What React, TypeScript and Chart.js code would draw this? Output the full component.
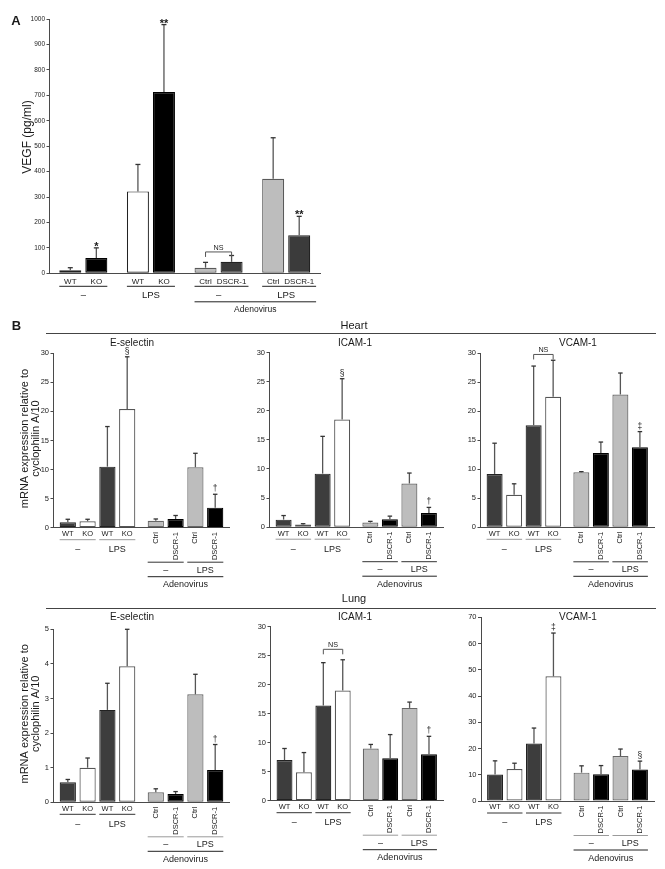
import React, { useEffect, useRef } from 'react';
import { Chart, registerables } from 'chart.js';

Chart.register(...registerables);

const FONT = '"Liberation Sans", Arial, Helvetica, sans-serif';
const PAGE_W = 665;
const PAGE_H = 869;

// ---------------- data ----------------
// Panel A: VEGF (pg/ml)
const A_GROUPS = ['–', 'LPS', '–', 'LPS'];
const A_BAR_LABELS = ['WT', 'KO', 'WT', 'KO', 'Ctrl', 'DSCR-1', 'Ctrl', 'DSCR-1'];
const A_VALUES = [12, 60, 322, 713, 22, 45, 372, 150];
const A_ERRORS = [10, 40, 106, 265, 21, 25, 161, 74];
const A_MARKS = ['', '*', '', '**', '', '', '', '**'];
const A_Y_MAX = 1000;
const A_Y_STEP = 100;
const A_Y_TITLE = ['VEGF (pg/ml)'];
const A_NS = { from: 4, to: 5, level: 84, text: 'NS' };

// Panel B
const B_CATEGORIES = ['Mice', 'Adenovirus'];
const B_BAR_LABELS = ['WT', 'KO', 'WT', 'KO', 'Ctrl', 'DSCR-1', 'Ctrl', 'DSCR-1'];
const B_PAIR_LABELS = ['–', 'LPS', '–', 'LPS'];
const B_Y_TITLE = ['mRNA expression relative to', 'cyclophilin A/10'];
const ADENO_LABEL = 'Adenovirus';
const SECTION_LABELS = ['Heart', 'Lung'];
const PANEL_LETTERS = ['A', 'B'];
const GENE_TITLES = ['E-selectin', 'ICAM-1', 'VCAM-1'];

const HEART_ESEL_VALUES = [0.95, 1.1, 10.5, 20.4, 1.2, 1.5, 10.4, 3.45];
const HEART_ESEL_ERRORS = [0.5, 0.35, 6.9, 9.0, 0.3, 0.6, 2.4, 2.3];
const HEART_ESEL_MARKS = ['', '', '', '§', '', '', '', '†'];

const HEART_ICAM_VALUES = [1.3, 0.45, 9.2, 18.5, 0.8, 1.35, 7.5, 2.45];
const HEART_ICAM_ERRORS = [0.7, 0.15, 6.4, 7.0, 0.2, 0.55, 1.8, 0.95];
const HEART_ICAM_MARKS = ['', '', '', '§', '', '', '', '†'];

const HEART_VCAM_VALUES = [9.2, 5.6, 17.6, 22.5, 9.5, 12.8, 22.9, 13.8];
const HEART_VCAM_ERRORS = [5.3, 1.9, 10.2, 6.3, 0.1, 1.9, 3.7, 2.7];
const HEART_VCAM_MARKS = ['', '', '', '', '', '', '', '‡'];
const HEART_VCAM_NS = { from: 2, to: 3, level: 29.8, text: 'NS' };

const LUNG_ESEL_VALUES = [0.58, 1.0, 2.67, 3.93, 0.29, 0.24, 3.12, 0.93];
const LUNG_ESEL_ERRORS = [0.08, 0.28, 0.77, 1.07, 0.1, 0.07, 0.58, 0.74];
const LUNG_ESEL_MARKS = ['', '', '', '', '', '', '', '†'];

const LUNG_ICAM_VALUES = [7.0, 4.9, 16.4, 19.0, 9.0, 7.3, 16.0, 8.0];
const LUNG_ICAM_ERRORS = [2.0, 3.4, 7.4, 5.3, 0.7, 4.1, 1.0, 3.1];
const LUNG_ICAM_MARKS = ['', '', '', '', '', '', '', '†'];
const LUNG_ICAM_NS = { from: 2, to: 3, level: 26.1, text: 'NS' };

const LUNG_VCAM_VALUES = [10.1, 12.2, 21.9, 47.5, 10.8, 10.2, 17.1, 12.0];
const LUNG_VCAM_ERRORS = [5.2, 2.2, 5.9, 16.5, 2.6, 3.3, 2.7, 3.2];
const LUNG_VCAM_MARKS = ['', '', '', '‡', '', '', '', '§'];

// ---------------- styles ----------------
const TEXT = '#1a1a1a';
const AXIS = '#4a4a4a';
const ERR = '#555555';
const A_FILLS = ['#ffffff', '#000000', '#ffffff', '#000000', '#bdbdbd', '#3b3b3b', '#bdbdbd', '#3b3b3b'];
const A_BORDERS = ['#222222', '#000000', '#222222', '#000000', '#5a5a5a', '#222222', '#5a5a5a', '#222222'];
const B_FILLS = ['#3d3d3d', '#ffffff', '#3d3d3d', '#ffffff', '#bdbdbd', '#000000', '#bdbdbd', '#000000'];
const B_BORDERS = ['#222222', '#555555', '#222222', '#555555', '#666666', '#000000', '#666666', '#000000'];

const OFFS_A = { hLabel: 8, hLine: 13, hGroup: 22.5, rTop: 0, rLine: 0, rGroup: 0, adenoLine: 28.5, adenoLabel: 36.5, barFont: 8, groupFont: 9.5, adenoFont: 8.5 };
const OFFS_B = { hLabel: 6.3, hLine: 12, hGroup: 22, rTop: 4.5, rLine: 34.5, rGroup: 42.6, adenoLine: 49, adenoLabel: 57.2, barFont: 7.5, groupFont: 9, adenoFont: 9 };

type Area = { left: number; top: number; right: number; bottom: number };
type NS = { from: number; to: number; level: number; text: string } | null;
type Spec = {
  key: string;
  categories: string[];
  perGroup: number;
  values: number[];
  errors: number[];
  marks: string[];
  barLabels: string[];
  pairLabels: string[];
  pairStyles: string[];
  fills: string[];
  borders: string[];
  yMax: number;
  yStep: number;
  area: Area;
  catPct: number;
  barPct: number;
  tickFont: number;
  yTitle: string[];
  yTitleX: number[];
  yTitleY: number;
  yTitleFont: number;
  title: string | null;
  titleX: number;
  titleY: number;
  ns: NS;
  offs: typeof OFFS_B;
  markFont: number;
  markBold: boolean;
  markDy: number;
  capW: number;
  widen: boolean;
  hLineColor: string;
  rLineColor: string;
};

const Y_W = 30;

const bSpec = (
  key: string,
  values: number[],
  errors: number[],
  marks: string[],
  yMax: number,
  yStep: number,
  area: Area,
  title: string,
  titleX: number,
  titleY: number,
  showYTitle: boolean,
  ns: NS,
  hLineColor: string,
  rLineColor: string,
): Spec => ({
  key,
  categories: B_CATEGORIES,
  perGroup: 4,
  values,
  errors,
  marks,
  barLabels: B_BAR_LABELS,
  pairLabels: B_PAIR_LABELS,
  pairStyles: ['h', 'h', 'r', 'r'],
  fills: B_FILLS,
  borders: B_BORDERS,
  yMax,
  yStep,
  area,
  catPct: 0.9,
  barPct: 0.82,
  tickFont: 7.5,
  yTitle: showYTitle ? B_Y_TITLE : [],
  yTitleX: [25, 36],
  yTitleY: (area.top + area.bottom) / 2 - 2,
  yTitleFont: 11,
  title,
  titleX,
  titleY,
  ns,
  offs: OFFS_B,
  markFont: 8.5,
  markBold: false,
  markDy: -3,
  capW: 4.5,
  widen: false,
  hLineColor,
  rLineColor,
});

const SPECS: Spec[] = [
  {
    key: 'A',
    categories: A_GROUPS,
    perGroup: 2,
    values: A_VALUES,
    errors: A_ERRORS,
    marks: A_MARKS,
    barLabels: A_BAR_LABELS,
    pairLabels: A_GROUPS,
    pairStyles: ['h', 'h', 'h', 'h'],
    fills: A_FILLS,
    borders: A_BORDERS,
    yMax: A_Y_MAX,
    yStep: A_Y_STEP,
    area: { left: 49.5, top: 19, right: 320, bottom: 273.3 },
    catPct: 0.77,
    barPct: 0.846,
    tickFont: 6.5,
    yTitle: A_Y_TITLE,
    yTitleX: [28],
    yTitleY: 137,
    yTitleFont: 12,
    title: null,
    titleX: 0,
    titleY: 0,
    ns: A_NS,
    offs: OFFS_A,
    markFont: 11,
    markBold: true,
    markDy: 2,
    capW: 5,
    widen: true,
    hLineColor: '#222',
    rLineColor: '#222',
  },
  bSpec('he', HEART_ESEL_VALUES, HEART_ESEL_ERRORS, HEART_ESEL_MARKS, 30, 5,
    { left: 53.5, top: 353.3, right: 229.5, bottom: 527.7 }, GENE_TITLES[0], 132, 343.3, true, null, '#9a9a9a', '#333'),
  bSpec('hi', HEART_ICAM_VALUES, HEART_ICAM_ERRORS, HEART_ICAM_MARKS, 30, 5,
    { left: 269.5, top: 352.5, right: 443, bottom: 527.2 }, GENE_TITLES[1], 355, 343.3, false, null, '#9a9a9a', '#333'),
  bSpec('hv', HEART_VCAM_VALUES, HEART_VCAM_ERRORS, HEART_VCAM_MARKS, 30, 5,
    { left: 480.5, top: 353.3, right: 654, bottom: 527.3 }, GENE_TITLES[2], 578, 343.3, false, HEART_VCAM_NS, '#9a9a9a', '#333'),
  bSpec('le', LUNG_ESEL_VALUES, LUNG_ESEL_ERRORS, LUNG_ESEL_MARKS, 5, 1,
    { left: 53.5, top: 629.3, right: 229.5, bottom: 802.3 }, GENE_TITLES[0], 132, 617, true, null, '#333', '#9a9a9a'),
  bSpec('li', LUNG_ICAM_VALUES, LUNG_ICAM_ERRORS, LUNG_ICAM_MARKS, 30, 5,
    { left: 270.5, top: 626.7, right: 443, bottom: 800.7 }, GENE_TITLES[1], 355, 617, false, LUNG_ICAM_NS, '#333', '#9a9a9a'),
  bSpec('lv', LUNG_VCAM_VALUES, LUNG_VCAM_ERRORS, LUNG_VCAM_MARKS, 70, 10,
    { left: 481, top: 617.3, right: 654, bottom: 801 }, GENE_TITLES[2], 578, 617, false, null, '#333', '#9a9a9a'),
];

const fontStr = (px: number, bold = false) => `${bold ? 'bold ' : ''}${px}px ${FONT}`;

function annotationPlugin(s: Spec) {
  return {
    id: 'figureAnnotations',
    afterDatasetsDraw(chart: any) {
      const ctx: CanvasRenderingContext2D = chart.ctx;
      const ys = chart.scales.y;
      const bottom = chart.chartArea.bottom;
      const o = s.offs;
      const bars: any[] = s.values.map(
        (_, i) => chart.getDatasetMeta(i % s.perGroup).data[Math.floor(i / s.perGroup)],
      );
      const hline = (x1: number, x2: number, y: number, color: string) => {
        ctx.strokeStyle = color;
        ctx.lineWidth = 1;
        ctx.beginPath();
        ctx.moveTo(x1, y);
        ctx.lineTo(x2, y);
        ctx.stroke();
      };
      ctx.save();
      ctx.lineCap = 'butt';

      // error bars + significance marks
      bars.forEach((el, i) => {
        const x = el.x;
        const top = ys.getPixelForValue(s.values[i] + s.errors[i]);
        ctx.strokeStyle = ERR;
        ctx.lineWidth = 1.3;
        ctx.beginPath();
        ctx.moveTo(x, el.y);
        ctx.lineTo(x, top);
        ctx.stroke();
        ctx.strokeStyle = '#333';
        ctx.beginPath();
        ctx.moveTo(x - s.capW / 2, top);
        ctx.lineTo(x + s.capW / 2, top);
        ctx.stroke();
        if (s.marks[i]) {
          ctx.fillStyle = TEXT;
          ctx.font = fontStr(s.markFont, s.markBold);
          ctx.textAlign = 'center';
          ctx.textBaseline = 'alphabetic';
          ctx.fillText(s.marks[i], x, top + s.markDy);
        }
      });

      // NS bracket
      if (s.ns) {
        const y = ys.getPixelForValue(s.ns.level);
        const x1 = bars[s.ns.from].x;
        const x2 = bars[s.ns.to].x;
        ctx.strokeStyle = ERR;
        ctx.lineWidth = 1;
        ctx.beginPath();
        ctx.moveTo(x1, y + 5);
        ctx.lineTo(x1, y);
        ctx.lineTo(x2, y);
        ctx.lineTo(x2, y + 5);
        ctx.stroke();
        ctx.fillStyle = TEXT;
        ctx.font = fontStr(7.2);
        ctx.textAlign = 'center';
        ctx.textBaseline = 'bottom';
        ctx.fillText(s.ns.text, (x1 + x2) / 2, y - 0.5);
      }

      // labels under the axis
      const extents: { x1: number; x2: number }[] = [];
      s.pairLabels.forEach((label, p) => {
        const a = bars[2 * p];
        const b = bars[2 * p + 1];
        let x1 = a.x - a.width / 2;
        let x2 = b.x + b.width / 2;
        ctx.fillStyle = TEXT;
        ctx.font = fontStr(o.barFont);
        if (s.pairStyles[p] === 'h') {
          ctx.textAlign = 'center';
          ctx.textBaseline = 'middle';
          [a, b].forEach((el, j) => {
            const t = s.barLabels[2 * p + j];
            ctx.fillText(t, el.x, bottom + o.hLabel);
            if (s.widen) {
              const w = ctx.measureText(t).width;
              x1 = Math.min(x1, el.x - w / 2 - 2);
              x2 = Math.max(x2, el.x + w / 2 + 2);
            }
          });
          hline(x1, x2, bottom + o.hLine, s.hLineColor);
          ctx.font = fontStr(o.groupFont);
          ctx.fillStyle = TEXT;
          ctx.textAlign = 'center';
          ctx.textBaseline = 'middle';
          ctx.fillText(label, (a.x + b.x) / 2, bottom + o.hGroup);
        } else {
          [a, b].forEach((el, j) => {
            const t = s.barLabels[2 * p + j];
            ctx.save();
            ctx.translate(el.x, bottom + o.rTop);
            ctx.rotate(-Math.PI / 2);
            ctx.textAlign = 'right';
            ctx.textBaseline = 'middle';
            ctx.fillText(t, 0, 0);
            ctx.restore();
          });
          hline(x1, x2, bottom + o.rLine, s.rLineColor);
          ctx.font = fontStr(o.groupFont);
          ctx.fillStyle = TEXT;
          ctx.textAlign = 'center';
          ctx.textBaseline = 'middle';
          ctx.fillText(label, (a.x + b.x) / 2, bottom + o.rGroup);
        }
        extents.push({ x1, x2 });
      });

      // adenovirus bracket line
      const ax1 = extents[2].x1;
      const ax2 = extents[3].x2;
      hline(ax1, ax2, bottom + o.adenoLine, '#222');
      ctx.fillStyle = TEXT;
      ctx.font = fontStr(o.adenoFont);
      ctx.textAlign = 'center';
      ctx.textBaseline = 'middle';
      ctx.fillText(ADENO_LABEL, (ax1 + ax2) / 2, bottom + o.adenoLabel);

      // y-axis title
      s.yTitle.forEach((line, j) => {
        ctx.save();
        ctx.translate(s.yTitleX[j], s.yTitleY);
        ctx.rotate(-Math.PI / 2);
        ctx.fillStyle = TEXT;
        ctx.font = fontStr(s.yTitleFont);
        ctx.textAlign = 'center';
        ctx.textBaseline = 'middle';
        ctx.fillText(line, 0, 0);
        ctx.restore();
      });

      // panel title
      if (s.title) {
        ctx.fillStyle = TEXT;
        ctx.font = fontStr(10);
        ctx.textAlign = 'center';
        ctx.textBaseline = 'middle';
        ctx.fillText(s.title, s.titleX, s.titleY);
      }
      ctx.restore();
    },
  };
}

function buildConfig(s: Spec): any {
  const datasets = Array.from({ length: s.perGroup }, (_, k) => ({
    label: `bar ${k + 1}`,
    data: s.categories.map((_, g) => s.values[g * s.perGroup + k]),
    backgroundColor: s.categories.map((_, g) => s.fills[g * s.perGroup + k]),
    borderColor: s.categories.map((_, g) => s.borders[g * s.perGroup + k]),
    borderWidth: 1.2,
    borderSkipped: false,
    categoryPercentage: s.catPct,
    barPercentage: s.barPct,
  }));
  return {
    type: 'bar',
    data: { labels: s.categories, datasets },
    options: {
      responsive: false,
      animation: false,
      events: [],
      layout: {
        padding: {
          left: s.area.left - Y_W,
          top: s.area.top,
          right: PAGE_W - s.area.right,
          bottom: PAGE_H - s.area.bottom,
        },
      },
      plugins: { legend: { display: false }, tooltip: { enabled: false }, title: { display: false } },
      scales: {
        x: {
          type: 'category',
          offset: true,
          grid: { display: false },
          border: { display: true, color: AXIS, width: 1 },
          ticks: { display: false },
          afterFit: (scale: any) => {
            scale.height = 0;
          },
        },
        y: {
          min: 0,
          max: s.yMax,
          ticks: {
            stepSize: s.yStep,
            font: { family: FONT, size: s.tickFont },
            color: '#222',
            padding: 1.5,
            callback: (v: any) => String(v),
          },
          grid: { display: true, drawOnChartArea: false, drawTicks: true, tickLength: 3, color: AXIS, lineWidth: 1 },
          border: { display: true, color: AXIS, width: 1 },
          afterFit: (scale: any) => {
            scale.width = Y_W;
          },
        },
      },
    },
    plugins: [annotationPlugin(s)],
  };
}

function ChartLayer({ spec }: { spec: Spec }) {
  const ref = useRef<HTMLCanvasElement>(null);
  useEffect(() => {
    const chart = new Chart(ref.current as HTMLCanvasElement, buildConfig(spec));
    return () => chart.destroy();
  }, [spec]);
  return (
    <canvas
      ref={ref}
      width={PAGE_W}
      height={PAGE_H}
      style={{ position: 'absolute', left: 0, top: 0, width: PAGE_W, height: PAGE_H }}
    />
  );
}

const HEADER_TEXT = [
  { text: PANEL_LETTERS[0], x: 16, y: 20, size: 13, bold: true },
  { text: PANEL_LETTERS[1], x: 16.5, y: 325, size: 13, bold: true },
  { text: SECTION_LABELS[0], x: 354, y: 325, size: 11, bold: false },
  { text: SECTION_LABELS[1], x: 354, y: 598, size: 11, bold: false },
];
const HEADER_LINES = [
  { x1: 46, x2: 656, y: 333 },
  { x1: 46, x2: 656, y: 607.5 },
];

export default function App() {
  return (
    <div
      style={{
        position: 'absolute',
        left: 0,
        top: 0,
        width: PAGE_W,
        height: PAGE_H,
        background: '#ffffff',
        overflow: 'hidden',
      }}
    >
      {SPECS.map((s) => (
        <ChartLayer key={s.key} spec={s} />
      ))}
      {HEADER_TEXT.map((h) => (
        <div
          key={h.text}
          style={{
            position: 'absolute',
            left: h.x,
            top: h.y,
            transform: 'translate(-50%, -50%)',
            fontFamily: FONT,
            fontSize: h.size,
            fontWeight: h.bold ? 700 : 400,
            lineHeight: 1,
            whiteSpace: 'nowrap',
            color: TEXT,
          }}
        >
          {h.text}
        </div>
      ))}
      {HEADER_LINES.map((l, i) => (
        <div
          key={i}
          style={{
            position: 'absolute',
            left: l.x1,
            top: l.y,
            width: l.x2 - l.x1,
            height: 0,
            borderTop: '1px solid #444',
          }}
        />
      ))}
    </div>
  );
}
